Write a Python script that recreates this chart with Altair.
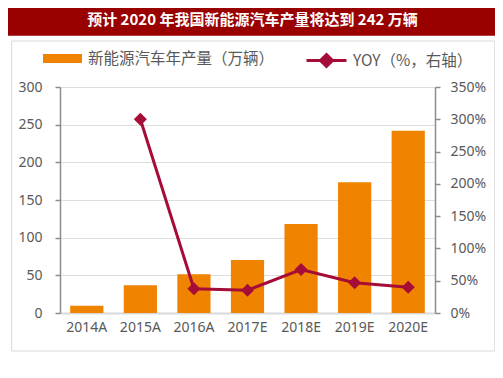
import altair as alt
import pandas as pd

years = ["2014A", "2015A", "2016A", "2017E", "2018E", "2019E", "2020E"]
production = [9.5, 37, 51.5, 70.5, 118, 173.5, 242]
yoy = [None, 3.00, 0.375, 0.353, 0.674, 0.468, 0.40]
bar_label = "新能源汽车年产量（万辆）"
line_label = "YOY（%，右轴）"
title_text = "预计 2020 年我国新能源汽车产量将达到 242 万辆"
left_ticks = [0, 50, 100, 150, 200, 250, 300]
right_ticks = [0, 0.5, 1.0, 1.5, 2.0, 2.5, 3.0, 3.5]

ORANGE = "#F08300"
CRIMSON = "#A50C38"
TITLE_BG = "#990000"
TEXT = "#595959"
AXIS = "#8C8C8C"

df = pd.DataFrame({"year": years, "prod": production, "yoy": yoy,
                   "bs": [bar_label] * len(years), "ls": [line_label] * len(years)})

x_enc = alt.X("year:N", sort=years,
              scale=alt.Scale(paddingInner=0.38, paddingOuter=0.19),
              axis=alt.Axis(title=None, labelAngle=0, ticks=False, domainColor="#D9D9D9",
                            domainWidth=2, labelColor=TEXT, labelFontSize=14,
                            labelFont="Noto Sans", labelPadding=7))

bars = alt.Chart(df).mark_bar(color=ORANGE).encode(
    x=x_enc,
    y=alt.Y("prod:Q", scale=alt.Scale(domain=[0, 300], nice=False),
            axis=alt.Axis(values=left_ticks, title=None, domainColor=AXIS, domainWidth=1.5,
                          tickColor=AXIS, tickWidth=1.5, tickSize=5, labelColor=TEXT,
                          labelFontSize=14, labelFont="Noto Sans", labelPadding=13)),
    color=alt.Color("bs:N", scale=alt.Scale(domain=[bar_label], range=[ORANGE]),
                    legend=alt.Legend(orient="none", legendX=-17, legendY=-48, title=None,
                                      symbolType="M-1,-0.23H1V0.23H-1Z", symbolSize=1521,
                                      symbolStrokeWidth=0, padding=0, labelOffset=6,
                                      labelFontSize=15.5, labelColor=TEXT, labelLimit=400,
                                      labelFont="Noto Sans CJK SC")),
)

yoy_scale = alt.Scale(domain=[0, 3.5], nice=False)
line = alt.Chart(df).mark_line(strokeWidth=3).encode(
    x=alt.X("year:N", sort=years, bandPosition=0.5),
    y=alt.Y("yoy:Q", scale=yoy_scale,
            axis=alt.Axis(orient="right", values=right_ticks, format=".0%", title=None,
                          domainColor=AXIS, domainWidth=1.5, tickColor=AXIS, tickWidth=1.5,
                          tickSize=5, labelColor=TEXT, labelFontSize=14,
                          labelFont="Noto Sans", labelPadding=10)),
    stroke=alt.Stroke("ls:N", scale=alt.Scale(domain=[line_label], range=[CRIMSON]),
                      legend=alt.Legend(orient="none", legendX=245, legendY=-48, title=None,
                                        symbolType="M-1,0H1M0,-0.3L0.3,0L0,0.3L-0.3,0Z",
                                        symbolSize=1600, symbolStrokeWidth=3,
                                        symbolFillColor=CRIMSON, padding=0, labelOffset=5,
                                        labelFontSize=15.5, labelColor=TEXT, labelLimit=400,
                                        labelFont="Noto Sans CJK SC")),
)
points = alt.Chart(df).mark_point(shape="diamond", filled=True, size=170, color=CRIMSON,
                                  opacity=1).encode(
    x=alt.X("year:N", sort=years, bandPosition=0.5),
    y=alt.Y("yoy:Q", scale=yoy_scale, axis=None),
)

one = pd.DataFrame({"t": [title_text]})
title_bg = alt.Chart(one).mark_rect(color=TITLE_BG).encode(
    x=alt.value(-52), x2=alt.value(438), y=alt.value(-79), y2=alt.value(-51.3))
frame = alt.Chart(one).mark_rect(fillOpacity=0, stroke="#D9D9D9", strokeWidth=1).encode(
    x=alt.value(-48.3), x2=alt.value(434.7), y=alt.value(-46), y2=alt.value(264))
title = alt.Chart(one).mark_text(color="white", fontSize=15, fontWeight="bold",
                                 font="Noto Sans CJK SC", align="center",
                                 baseline="middle").encode(
    text="t:N", x=alt.value(192.5), y=alt.value(-67.5))

chart = alt.layer(frame, title_bg, title, bars, line, points).resolve_scale(
    y="independent"
).properties(
    width=375, height=226,
    autosize=alt.AutoSizeParams(type="none"),
    padding={"left": 52, "top": 79, "right": 60, "bottom": 57},
).configure_view(stroke=None)

chart.save("out.html", embed_options={"renderer": "svg", "actions": False})
